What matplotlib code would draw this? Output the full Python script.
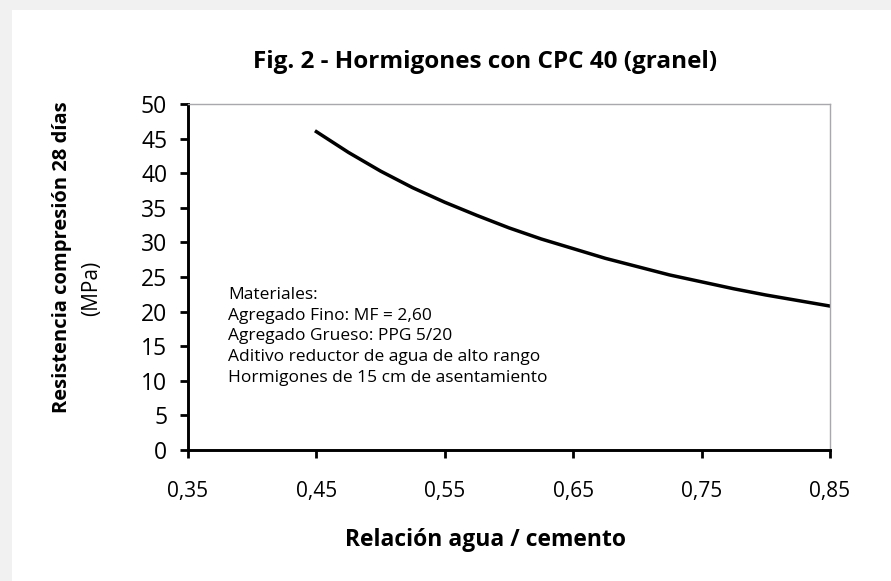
import matplotlib.pyplot as plt
from matplotlib.patches import Rectangle

plt.rcParams['font.family'] = ['Open Sans', 'DejaVu Sans']

# relación agua/cemento vs resistencia a 28 días (MPa)
ratio = [0.45, 0.475, 0.50, 0.525, 0.55, 0.575, 0.60, 0.625, 0.65,
         0.675, 0.70, 0.725, 0.75, 0.775, 0.80, 0.825, 0.85]
strength = [46.0, 43.0, 40.3, 37.9, 35.8, 33.9, 32.1, 30.5, 29.1,
            27.7, 26.5, 25.3, 24.3, 23.3, 22.4, 21.6, 20.8]

x_ticks = [0.35, 0.45, 0.55, 0.65, 0.75, 0.85]
x_labels = ['0,35', '0,45', '0,55', '0,65', '0,75', '0,85']
y_ticks = list(range(0, 51, 5))

notes = ["Materiales:",
         "Agregado Fino: MF = 2,60",
         "Agregado Grueso: PPG 5/20",
         "Aditivo reductor de agua de alto rango",
         "Hormigones de 15 cm de asentamiento"]

W, H = 891, 581
fig = plt.figure(figsize=(W / 100, H / 100), dpi=100)
fig.patch.set_facecolor('#f1f1f1')
fig.patches.append(Rectangle((12 / W, 0), 1, 1 - 10 / H, transform=fig.transFigure,
                             facecolor='white', edgecolor='none', zorder=-10))

ax = fig.add_axes([188 / W, 1 - 450 / H, (830 - 188) / W, (450 - 104) / H])
ax.set_zorder(5)
ax.plot(ratio, strength, color='black', lw=2.5)

ax.set_xlim(0.35, 0.85)
ax.set_ylim(0, 50)
ax.set_xticks(x_ticks)
ax.set_xticklabels(x_labels)
ax.set_yticks(y_ticks)

for s in ['left', 'bottom']:
    ax.spines[s].set_linewidth(2.1)
    ax.spines[s].set_color('black')
for s in ['top', 'right']:
    ax.spines[s].set_linewidth(1)
    ax.spines[s].set_color('#a8a8ad')

ax.tick_params(axis='x', direction='out', length=6, width=2, pad=16, labelsize=15)
ax.tick_params(axis='y', direction='out', length=6, width=2, pad=9, labelsize=16.5)

ax.text(0.062, 0.47, "\n".join(notes), transform=ax.transAxes, fontsize=12.5,
        va='top', ha='left', linespacing=1.38)

fig.text(485 / W, 1 - 62 / H, "Fig. 2 - Hormigones con CPC 40 (granel)",
         ha='center', va='center', fontsize=17.5, fontweight='bold')
fig.text(486 / W, 1 - 540 / H, "Relación agua / cemento",
         ha='center', va='center', fontsize=16.5, fontweight='bold')
fig.text(62 / W, 1 - 257 / H, "Resistencia compresión 28 días",
         ha='center', va='center', rotation=90, fontsize=14.5, fontweight='bold')
fig.text(92 / W, 1 - 288 / H, "(MPa)",
         ha='center', va='center', rotation=90, fontsize=15)

fig.savefig("out.png", dpi=100, facecolor=fig.get_facecolor())
